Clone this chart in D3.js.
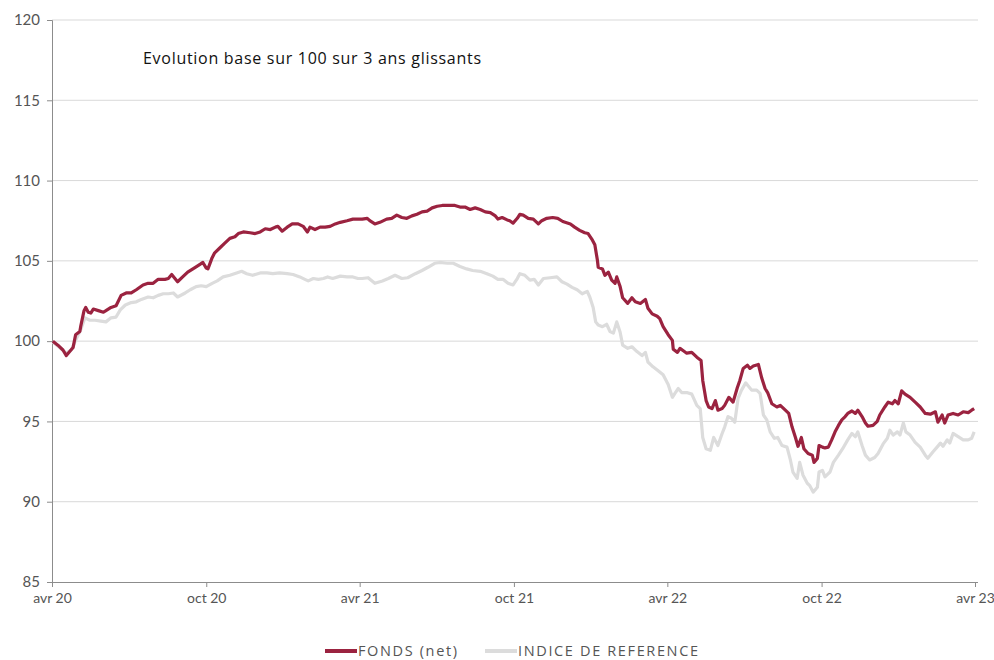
<!DOCTYPE html>
<html><head><meta charset="utf-8">
<script src="https://cdn.jsdelivr.net/npm/d3@7"></script>
<style>
html,body{margin:0;padding:0;background:#fff;}
svg{display:block;font-family:Lato, "Open Sans", sans-serif;}
</style></head>
<body>
<svg id="chart" width="994" height="660"></svg>
<script>
// Days since 2020-04-01 and values (base 100)
const startDate = "2020-04-01";
const endDate = "2023-04-01";
const fundDays = [1,7,13,17,25,28,33,34,38,40,43,46,49,55,61,64,70,76,82,88,94,100,108,114,120,126,134,138,142,149,155,161,170,176,179,183,185,190,193,199,205,211,217,221,227,235,241,247,253,259,265,268,273,279,285,292,298,303,306,312,318,324,330,336,342,350,357,363,368,374,377,383,389,397,403,409,415,421,427,433,439,445,451,457,463,470,478,484,490,496,502,508,514,520,526,529,534,540,543,547,552,555,559,565,571,577,581,587,594,600,606,615,620,626,632,636,641,644,647,648,653,656,660,664,668,670,674,677,683,688,692,698,704,707,712,718,721,725,731,736,737,742,745,749,753,759,765,770,772,776,779,783,787,790,795,798,803,808,813,816,820,825,828,832,838,842,846,849,854,860,864,870,874,878,882,885,889,892,897,902,904,908,910,914,917,921,925,929,933,937,941,944,949,953,956,961,965,968,974,979,982,988,992,997,1000,1004,1008,1012,1018,1024,1030,1036,1042,1048,1051,1056,1059,1063,1069,1075,1081,1087,1091,1094];
const fundValues = [100,99.75,99.45,99.1,99.6,100.4,100.6,100.9,101.9,102.1,101.8,101.75,102,101.9,101.8,101.9,102.1,102.2,102.85,103,103,103.2,103.5,103.6,103.6,103.85,103.85,103.9,104.15,103.7,104,104.3,104.6,104.8,104.9,104.55,104.5,105.2,105.5,105.8,106.1,106.4,106.5,106.7,106.8,106.75,106.7,106.8,107,106.95,107.1,107.15,106.85,107.1,107.3,107.3,107.15,106.8,107.1,106.95,107.1,107.1,107.15,107.3,107.4,107.5,107.6,107.6,107.6,107.65,107.5,107.3,107.4,107.6,107.65,107.85,107.7,107.65,107.8,107.9,108.05,108.1,108.3,108.4,108.45,108.45,108.45,108.35,108.35,108.2,108.3,108.2,108.05,108,107.8,107.6,107.7,107.55,107.5,107.35,107.65,107.9,107.85,107.65,107.6,107.3,107.5,107.65,107.7,107.65,107.45,107.3,107.1,106.9,106.75,106.7,106.3,106,105.05,104.6,104.5,104.1,104.3,103.8,103.6,104,103.4,102.7,102.35,102.7,102.45,102.35,102.6,102.05,101.7,101.55,101.4,100.9,100.4,100.05,99.5,99.3,99.55,99.4,99.25,99.3,99,98.8,97.55,96.3,95.9,95.8,96.3,95.7,95.8,96,96.5,96.2,97.1,97.55,98.3,98.5,98.3,98.45,98.55,97.7,97.05,96.8,96.1,95.9,96,95.7,95.5,94.65,94,93.45,94,93.3,93,92.9,92.45,92.7,93.5,93.4,93.35,93.4,93.85,94.35,94.75,95.1,95.3,95.5,95.65,95.5,95.7,95.3,94.9,94.7,94.75,95,95.4,95.9,96.2,96.1,96.3,96.1,96.9,96.7,96.5,96.2,95.9,95.5,95.45,95.6,94.95,95.4,94.9,95.4,95.5,95.4,95.6,95.55,95.7,95.8];
const indexDays = [1,9,17,23,28,34,39,45,51,58,64,70,76,81,87,94,100,106,114,120,126,132,138,144,149,158,164,171,177,183,190,196,203,211,219,225,231,238,247,255,262,270,279,286,294,300,304,310,316,322,327,333,342,350,357,363,368,375,383,392,399,407,415,422,431,439,446,454,460,469,476,484,492,499,508,516,523,529,535,541,547,552,555,561,567,572,577,583,591,599,605,611,617,623,629,635,638,642,645,648,653,658,662,666,670,674,677,683,688,694,700,704,707,713,718,725,731,736,739,743,747,753,759,765,769,772,776,781,785,790,795,798,802,806,810,814,818,823,827,830,836,840,844,848,852,857,861,866,872,876,879,884,887,891,896,899,903,908,910,914,917,923,927,933,938,944,949,953,956,961,965,970,976,980,986,991,994,998,1003,1006,1010,1013,1018,1024,1030,1036,1039,1045,1050,1054,1057,1062,1065,1069,1075,1081,1087,1091,1094];
const indexValues = [99.95,99.6,99.25,99.45,100.05,100.7,101.45,101.3,101.3,101.25,101.2,101.45,101.5,101.95,102.25,102.4,102.45,102.6,102.75,102.7,102.85,102.95,102.95,103,102.75,103,103.2,103.4,103.45,103.4,103.6,103.75,104,104.1,104.25,104.35,104.2,104.1,104.25,104.25,104.2,104.25,104.2,104.15,104,103.85,103.75,103.9,103.85,103.9,104,103.9,104.05,104,104,103.9,103.9,103.95,103.6,103.75,103.9,104.1,103.9,103.95,104.2,104.4,104.6,104.85,104.9,104.85,104.85,104.65,104.5,104.4,104.35,104.2,104.05,103.85,103.85,103.6,103.5,103.9,104.2,104.1,103.8,103.85,103.5,103.9,103.95,104,103.7,103.55,103.35,103.2,102.95,103.1,102.75,102.1,101.2,101,100.9,101.05,100.6,100.5,101.2,100.55,99.75,99.55,99.65,99.35,99.1,99.3,98.7,98.4,98.2,97.9,97.3,96.5,96.75,97.05,96.8,96.8,96.7,96,95.8,94,93.3,93.2,94,93.5,94.25,94.65,95.3,95.2,94.95,96.45,96.95,97.4,97.15,96.95,96.95,96.75,95.4,95.1,94.35,93.95,94,93.5,93.4,92.6,91.85,91.45,92.45,91.65,91.15,91,90.6,90.9,91.85,91.95,91.55,91.85,92.45,92.9,93.3,93.85,94.25,94.05,94.35,93.5,92.9,92.6,92.75,93,93.6,93.95,94.45,94.15,94.35,94.15,94.9,94.35,94.15,93.7,93.4,92.9,92.7,93.1,93.4,93.65,93.45,93.85,93.65,94.25,94.05,93.85,93.85,93.95,94.35];
const yTicks = [85,90,95,100,105,110,115,120];
const xTickDates = ["2020-04-01","2020-10-01","2021-04-01","2021-10-01","2022-04-01","2022-10-01","2023-04-01"];
const xTickLabels = ["avr 20","oct 20","avr 21","oct 21","avr 22","oct 22","avr 23"];
const titleText = "Evolution base sur 100 sur 3 ans glissants";
const seriesNames = ["FONDS (net)","INDICE DE REFERENCE"];
const seriesColors = ["#9b2340","#dcdcdc"];

const parse = d3.timeParse("%Y-%m-%d");
const t0 = parse(startDate);
const svg = d3.select("#chart");
const m = {left:52, right:19, top:20, bottom:78};
const W = 994, H = 660;
const x = d3.scaleTime().domain([t0, parse(endDate)]).range([m.left, W - m.right]);
const y = d3.scaleLinear().domain([85,120]).range([H - m.bottom, m.top]);

const toPts = (days, vals) => days.map((d,i)=>({date:d3.timeDay.offset(t0,d), v:vals[i]}));

// gridlines
svg.append("g").selectAll("line").data(yTicks.filter(t=>t>85)).join("line")
  .attr("x1", m.left).attr("x2", W - m.right + 3)
  .attr("y1", d=>y(d)).attr("y2", d=>y(d))
  .attr("stroke", "#d9d9d9").attr("stroke-width", 1);

// y axis
const yAxis = svg.append("g").attr("transform", `translate(${m.left},0)`)
  .call(d3.axisLeft(y).tickValues(yTicks).tickSize(5).tickPadding(7));
yAxis.select(".domain").attr("stroke", "#8c8c8c");
yAxis.selectAll(".tick line").attr("stroke", "#8c8c8c");
yAxis.selectAll("text").attr("font-size", 15).attr("fill", "#555").attr("font-family","Lato, sans-serif");

// x axis
const xAxis = svg.append("g").attr("transform", `translate(0,${H - m.bottom})`)
  .call(d3.axisBottom(x).tickValues(xTickDates.map(parse)).tickSize(5).tickPadding(6)
    .tickFormat((d,i)=>xTickLabels[i]));
xAxis.select(".domain").attr("stroke", "#8c8c8c").attr("d", `M${m.left},0.5H${W - m.right + 3}`);
xAxis.selectAll(".tick line").attr("stroke", "#8c8c8c");
xAxis.selectAll("text").attr("font-size", 14).attr("fill", "#555").attr("font-family","Lato, sans-serif");

const line = d3.line().x(d=>x(d.date)).y(d=>y(d.v)).curve(d3.curveLinear);
svg.append("path").datum(toPts(indexDays, indexValues))
  .attr("fill","none").attr("stroke", seriesColors[1]).attr("stroke-width", 3.2)
  .attr("stroke-linejoin","round").attr("d", line);
svg.append("path").datum(toPts(fundDays, fundValues))
  .attr("fill","none").attr("stroke", seriesColors[0]).attr("stroke-width", 3.2)
  .attr("stroke-linejoin","round").attr("d", line);

// title
svg.append("text").attr("x", 143).attr("y", 64).attr("font-size", 16)
  .attr("fill", "#111").attr("font-family","'Open Sans', sans-serif").attr("font-weight", 500)
  .attr("textLength", 338).attr("lengthAdjust", "spacing").text(titleText);

// legend
const legendX = [325, 485];
const legendW = [99, 180];
const lg = svg.append("g");
seriesNames.forEach((n,i)=>{
  lg.append("line").attr("x1", legendX[i]).attr("x2", legendX[i]+32)
    .attr("y1", 651).attr("y2", 651).attr("stroke", seriesColors[i]).attr("stroke-width", 4);
  lg.append("text").attr("x", legendX[i]+33).attr("y", 656).attr("font-size", 14.5)
    .attr("fill", "#555").attr("font-family","'Open Sans', sans-serif")
    .attr("textLength", legendW[i]).attr("lengthAdjust", "spacing").text(n);
});
</script>
</body></html>
